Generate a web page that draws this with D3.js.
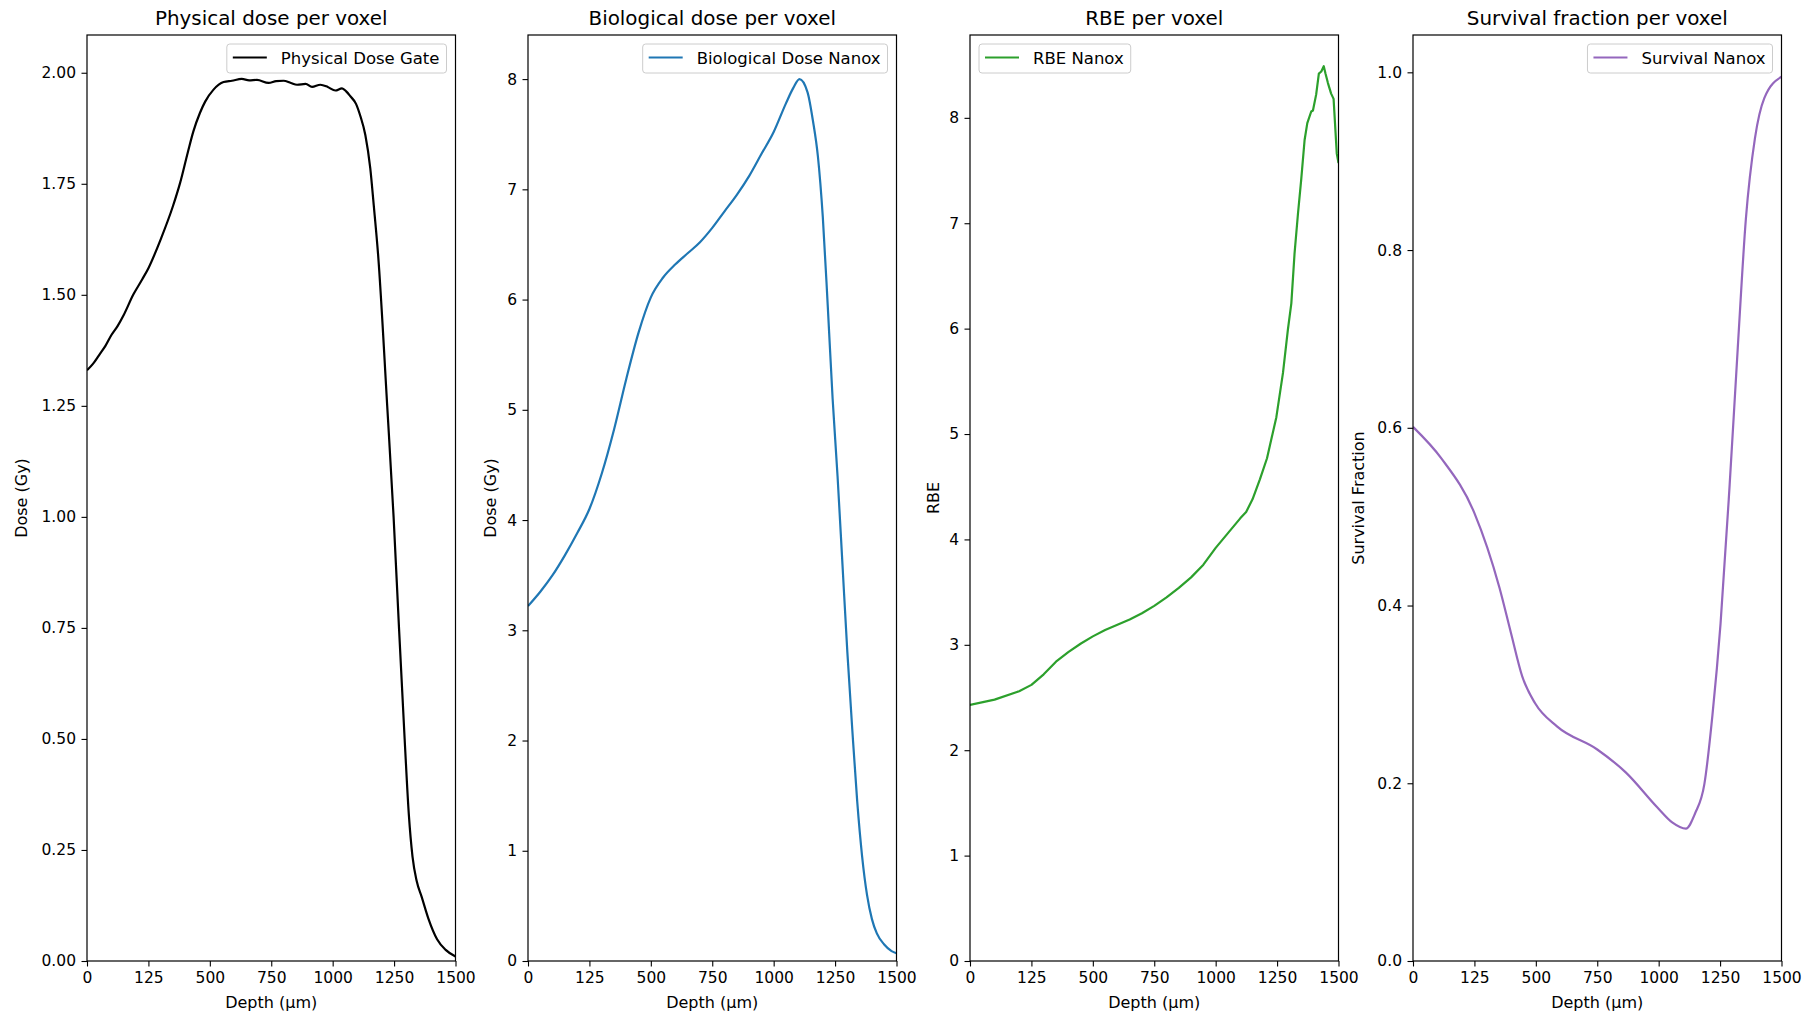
<!DOCTYPE html>
<html>
<head>
<meta charset="utf-8">
<script src="https://cdn.jsdelivr.net/npm/d3@7"></script>
<style>
  body { margin: 0; background: #fff; }
  svg { font-family: "DejaVu Sans", sans-serif; }
</style>
</head>
<body>
<div id="vis"></div>
<script>
/* Data */

// depth axis ticks (the original labels the 250 tick as "125")
var xTickValues = [0, 250, 500, 750, 1000, 1250, 1500];
var xTickLabels = ["0", "125", "500", "750", "1000", "1250", "1500"];

// physical dose (Gy), Gate
var physDepth = [0, 25, 50, 75, 100, 125, 150, 188, 225, 250, 300, 350, 379, 410, 433, 460, 481, 515, 556, 590,
  630, 660, 692, 739, 770, 800, 830, 855, 890, 916, 950, 980, 1011, 1038, 1055, 1072, 1095, 1113, 1133, 1153,
  1167, 1185, 1222, 1248, 1270, 1293, 1310, 1325, 1342, 1362, 1390, 1425, 1460, 1500];
var physDose = [1.330, 1.345, 1.365, 1.385, 1.410, 1.430, 1.455, 1.500, 1.535, 1.560, 1.625, 1.700, 1.752, 1.820,
  1.868, 1.910, 1.935, 1.962, 1.979, 1.982, 1.986, 1.983, 1.984, 1.977, 1.981, 1.982, 1.977, 1.973, 1.975, 1.968,
  1.973, 1.968, 1.960, 1.965, 1.958, 1.947, 1.930, 1.902, 1.860, 1.785, 1.703, 1.590, 1.250, 1.000, 0.750, 0.500,
  0.330, 0.235, 0.180, 0.145, 0.095, 0.049, 0.025, 0.010];

// biological dose (Gy), Nanox
var bioDepth = [0, 50, 100, 150, 200, 250, 300, 350, 400, 450, 500, 550, 600, 650, 700, 750, 800, 850, 900, 950,
  1000, 1050, 1080, 1105, 1138, 1160, 1180, 1200, 1220, 1240, 1260, 1280, 1300, 1320, 1340, 1360, 1380, 1400,
  1420, 1450, 1480, 1500];
var bioDose = [3.22, 3.35, 3.50, 3.68, 3.88, 4.10, 4.42, 4.82, 5.28, 5.70, 6.02, 6.20, 6.32, 6.42, 6.52, 6.65,
  6.80, 6.95, 7.12, 7.32, 7.52, 7.78, 7.92, 8.00, 7.88, 7.62, 7.30, 6.75, 5.95, 5.10, 4.40, 3.60, 2.80, 2.10,
  1.45, 0.95, 0.60, 0.38, 0.25, 0.15, 0.09, 0.07];

// RBE, Nanox
var rbeDepth = [0, 100, 200, 250, 300, 350, 400, 450, 500, 550, 600, 650, 700, 750, 800, 850, 900, 950, 1000,
  1050, 1100, 1124, 1150, 1180, 1209, 1247, 1274, 1294, 1308, 1321, 1335, 1348, 1362, 1373, 1389, 1396, 1409,
  1420, 1430, 1440, 1447, 1457, 1470, 1480, 1493, 1500];
var rbeValue = [2.43, 2.48, 2.56, 2.62, 2.72, 2.84, 2.93, 3.01, 3.08, 3.14, 3.19, 3.24, 3.30, 3.37, 3.45, 3.54,
  3.64, 3.76, 3.92, 4.06, 4.20, 4.26, 4.38, 4.57, 4.77, 5.16, 5.58, 5.99, 6.24, 6.71, 7.09, 7.41, 7.79, 7.95,
  8.06, 8.07, 8.22, 8.42, 8.44, 8.49, 8.42, 8.33, 8.23, 8.18, 7.66, 7.57];

// survival fraction, Nanox
var survDepth = [0, 117, 250, 352, 398, 445, 497, 586, 750, 867, 994, 1055, 1111, 1148, 1186, 1219, 1252, 1289,
  1322, 1355, 1392, 1430, 1500];
var survValue = [0.601, 0.565, 0.504, 0.420, 0.370, 0.320, 0.290, 0.264, 0.238, 0.212, 0.173, 0.156, 0.149, 0.166,
  0.199, 0.277, 0.380, 0.536, 0.690, 0.835, 0.926, 0.971, 0.995];

var yTicks1 = [0, 0.25, 0.5, 0.75, 1, 1.25, 1.5, 1.75, 2];
var yTicks2 = [0, 1, 2, 3, 4, 5, 6, 7, 8];
var yTicks3 = [0, 1, 2, 3, 4, 5, 6, 7, 8];
var yTicks4 = [0, 0.2, 0.4, 0.6, 0.8, 1.0];

/* Layout */

var width = 1809, height = 1015;
var top_ = 35, bottom = 961, panelW = 368.5;

var panels = [
  {left: 87, title: "Physical dose per voxel", ylabel: "Dose (Gy)", labelOff: 66,
   xs: physDepth, ys: physDose, ymax: 2.085, ticks: yTicks1, fmt: d3.format(".2f"),
   color: "#000000", name: "Physical Dose Gate", legend: "right", curve: d3.curveMonotoneX},
  {left: 528, title: "Biological dose per voxel", ylabel: "Dose (Gy)", labelOff: 38,
   xs: bioDepth, ys: bioDose, ymax: 8.40, ticks: yTicks2, fmt: d3.format("d"),
   color: "#1f77b4", name: "Biological Dose Nanox", legend: "right", curve: d3.curveMonotoneX},
  {left: 970, title: "RBE per voxel", ylabel: "RBE", labelOff: 37,
   xs: rbeDepth, ys: rbeValue, ymax: 8.786, ticks: yTicks3, fmt: d3.format("d"),
   color: "#2ca02c", name: "RBE Nanox", legend: "left", curve: d3.curveLinear},
  {left: 1413, title: "Survival fraction per voxel", ylabel: "Survival Fraction", labelOff: 55,
   xs: survDepth, ys: survValue, ymax: 1.042, ticks: yTicks4, fmt: d3.format(".1f"),
   color: "#9467bd", name: "Survival Nanox", legend: "right", curve: d3.curveMonotoneX}
];

var svg = d3.select("#vis")
  .append("svg")
  .attr("width", width)
  .attr("height", height);

panels.forEach(function(p) {
  var x = d3.scaleLinear().domain([0, 1500]).range([0, panelW]);
  var y = d3.scaleLinear().domain([0, p.ymax]).range([bottom - top_, 0]);
  var h = bottom - top_;

  var g = svg.append("g").attr("transform", "translate(" + p.left + "," + top_ + ")");

  // clip so the line stays inside the axes
  var clipId = "clip" + p.left;
  g.append("clipPath").attr("id", clipId)
    .append("rect").attr("width", panelW).attr("height", h);

  var pts = p.xs.map(function(d, i) { return [d, p.ys[i]]; });
  g.append("path")
    .datum(pts)
    .attr("clip-path", "url(#" + clipId + ")")
    .attr("fill", "none")
    .attr("stroke", p.color)
    .attr("stroke-width", 2.2)
    .attr("stroke-linejoin", "round")
    .attr("d", d3.line().curve(p.curve)
      .x(function(d) { return x(d[0]); })
      .y(function(d) { return y(d[1]); }));

  // axes
  var xa = g.append("g")
    .attr("transform", "translate(0," + h + ")")
    .call(d3.axisBottom(x).tickValues(xTickValues)
      .tickFormat(function(d, i) { return xTickLabels[i]; })
      .tickSize(5.5).tickPadding(5.5));

  var ya = g.append("g")
    .call(d3.axisLeft(y).tickValues(p.ticks).tickFormat(p.fmt)
      .tickSize(5.5).tickPadding(5.5));

  [xa, ya].forEach(function(a) {
    a.select(".domain").remove();
    a.selectAll("line").attr("stroke", "#000").attr("stroke-width", 1.1);
    a.selectAll("text").attr("font-family", "DejaVu Sans").attr("font-size", "15.5px").attr("fill", "#000");
  });

  // frame
  g.append("rect")
    .attr("width", panelW).attr("height", h)
    .attr("fill", "none").attr("stroke", "#000").attr("stroke-width", 1.2);

  // title and axis labels
  svg.append("text")
    .attr("x", p.left + panelW / 2).attr("y", 25)
    .attr("text-anchor", "middle")
    .attr("font-size", "19.9px")
    .text(p.title);

  svg.append("text")
    .attr("x", p.left + panelW / 2).attr("y", 1008)
    .attr("text-anchor", "middle")
    .attr("font-size", "16px")
    .text("Depth (\u00b5m)");

  svg.append("text")
    .attr("transform", "translate(" + (p.left - p.labelOff) + "," + ((top_ + bottom) / 2) + ") rotate(-90)")
    .attr("text-anchor", "middle")
    .attr("dy", "0.35em")
    .attr("font-size", "16px")
    .text(p.ylabel);

  // legend
  var lg = g.append("g");
  var box = lg.append("rect")
    .attr("fill", "#fff").attr("fill-opacity", 0.8)
    .attr("stroke", "#cccccc").attr("stroke-width", 1)
    .attr("rx", 3).attr("height", 29);
  var txt = lg.append("text")
    .attr("x", 54).attr("y", 14.5).attr("dy", "0.35em")
    .attr("font-size", "16.5px")
    .text(p.name);
  lg.append("line")
    .attr("x1", 6).attr("x2", 40).attr("y1", 13.5).attr("y2", 13.5)
    .attr("stroke", p.color).attr("stroke-width", 2.2);
  var bw = txt.node().getComputedTextLength() + 54 + 7;
  box.attr("width", bw);
  var lx = p.legend === "left" ? 9 : panelW - 9 - bw;
  lg.attr("transform", "translate(" + lx + ",9)");
});
</script>
</body>
</html>
